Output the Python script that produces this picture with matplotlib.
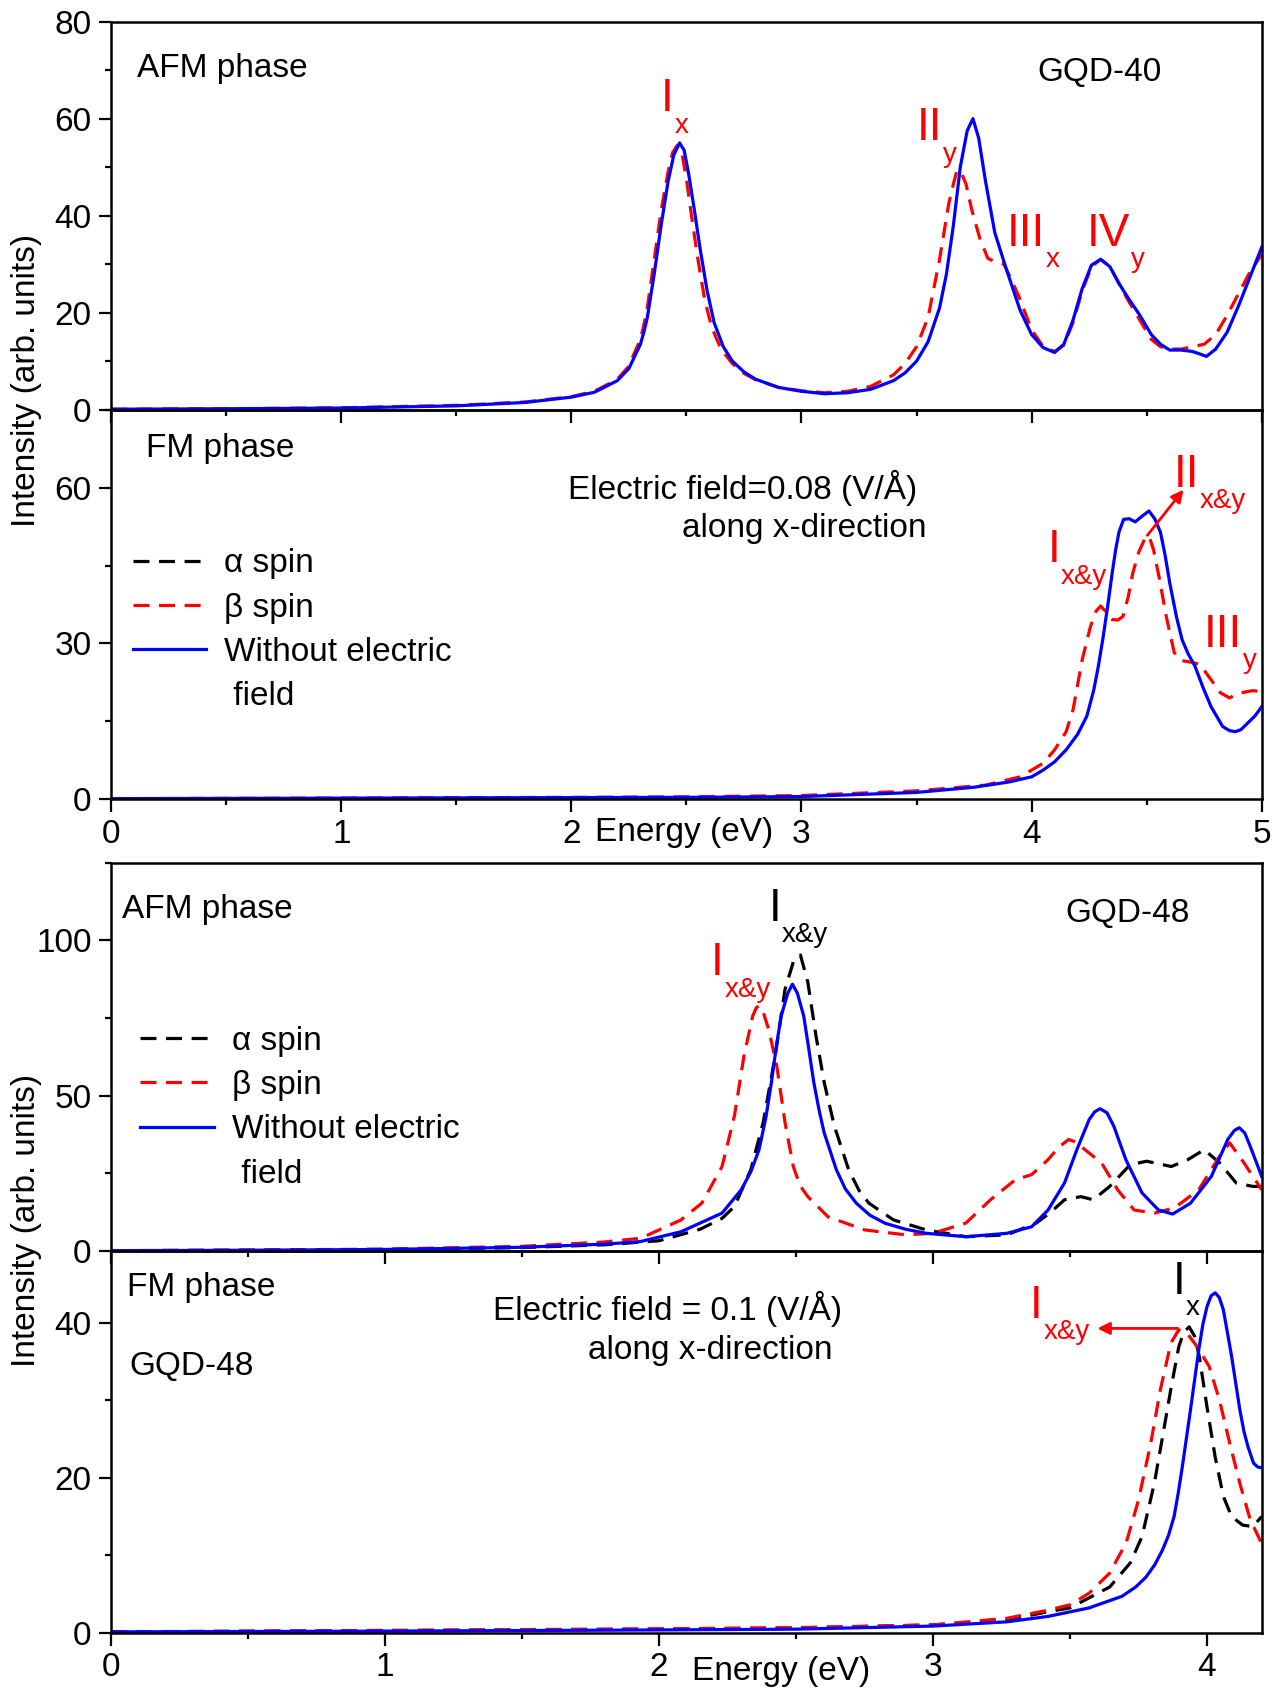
import matplotlib
matplotlib.use("Agg")
import matplotlib.pyplot as plt
from matplotlib.lines import Line2D
from matplotlib.ticker import MultipleLocator

plt.rcParams['font.family'] = ['Liberation Sans', 'DejaVu Sans']

# ---- GQD-40, AFM phase ----
afm40_blue_x = [0, 0.5, 1.0, 1.5, 1.8, 2.0, 2.1, 2.2, 2.25, 2.27, 2.3, 2.315, 2.33, 2.36, 2.39, 2.42, 2.445,
                2.47, 2.49, 2.51, 2.535, 2.56, 2.59, 2.62, 2.66, 2.7, 2.75, 2.8, 2.9, 3.0, 3.1, 3.2, 3.3, 3.4,
                3.45, 3.5, 3.55, 3.6, 3.63, 3.66, 3.69, 3.72, 3.745, 3.77, 3.8, 3.84, 3.89, 3.95, 4.0, 4.05,
                4.1, 4.14, 4.18, 4.22, 4.26, 4.3, 4.34, 4.38, 4.42, 4.47, 4.52, 4.56, 4.6, 4.65, 4.7, 4.76,
                4.8, 4.85, 4.9, 4.95, 5.0]
afm40_blue_y = [0.1, 0.2, 0.35, 0.8, 1.5, 2.6, 3.6, 6.0, 8.5, 10.5, 13.5, 16, 19, 28, 38, 47, 52.5,
                55, 53.5, 48.5, 41, 33, 24.5, 18, 13, 10, 7.8, 6.3, 4.6, 3.8, 3.3, 3.5, 4.2, 6.0,
                7.6, 10.0, 14, 21, 28, 38, 50, 57.5, 60, 56, 47, 36.5, 29, 20.5, 15.5, 12.8,
                11.8, 13.5, 18.5, 25, 29.8, 31, 29.5, 26, 23, 19.5, 15.5, 13.5, 12.3, 12.3, 12.0, 11.0,
                12.5, 16, 21.5, 27.5, 33.5]
afm40_red_x = [0, 0.5, 1.0, 1.5, 1.8, 2.0, 2.1, 2.2, 2.25, 2.27, 2.3, 2.315, 2.33, 2.36, 2.39, 2.42, 2.44,
               2.46, 2.48, 2.50, 2.525, 2.55, 2.58, 2.61, 2.65, 2.7, 2.75, 2.8, 2.9, 3.0, 3.1, 3.2, 3.3, 3.4,
               3.45, 3.5, 3.55, 3.6, 3.64, 3.66, 3.676, 3.695, 3.715, 3.741, 3.777, 3.81, 3.84, 3.88, 3.91,
               3.945, 4.0, 4.05, 4.1, 4.14, 4.18, 4.22, 4.26, 4.3, 4.34, 4.38, 4.42, 4.47, 4.52, 4.56, 4.6,
               4.65, 4.7, 4.75, 4.8, 4.85, 4.9, 4.95, 5.0]
afm40_red_y = [0.1, 0.2, 0.4, 0.9, 1.6, 2.7, 3.8, 6.3, 9.0, 11.3, 14.5, 17.5, 21, 31, 41, 49, 53,
               54.5, 53, 47.5, 39, 31, 22.5, 17, 12.5, 9.5, 7.5, 6.2, 4.6, 3.9, 3.5, 3.8, 4.8, 7.2,
               9.5, 13, 19, 31, 42.5, 46.5, 49.4, 48.8, 46.5, 41, 35, 31.2, 30.5, 30, 27,
               23.3, 16.5, 13, 12, 13.3, 18, 24.5, 29.5, 31, 29.5, 26, 22.5, 18.5, 14.5, 13, 12.5,
               12.5, 13.0, 13.5, 15.5, 19.5, 24, 28.5, 32]

# ---- GQD-40, FM phase, E = 0.08 V/A ----
fm40_blue_x = [0, 1, 2, 2.5, 3.0, 3.5, 3.75, 3.9, 4.0, 4.05, 4.1, 4.15, 4.2, 4.24, 4.27, 4.29, 4.31, 4.33,
               4.35, 4.365, 4.38, 4.4, 4.425, 4.45, 4.48, 4.51, 4.535, 4.56, 4.58, 4.6, 4.63, 4.654, 4.68,
               4.71, 4.745, 4.78, 4.83, 4.86, 4.885, 4.91, 4.94, 4.97, 5.0]
fm40_blue_y = [0.1, 0.2, 0.3, 0.35, 0.5, 1.3, 2.3, 3.3, 4.3, 5.6, 7.2, 9.5, 12.5, 16, 21, 25.6, 31, 37,
               43.5, 48, 51.5, 53.9, 54, 53.4, 54.5, 55.5, 54, 51.4, 47, 41.7, 35, 30.7, 28,
               25.6, 21.5, 17.8, 14, 13.2, 13, 13.4, 14.7, 16, 17.8]
fm40_red_x = [0, 1, 2, 2.5, 3.0, 3.5, 3.8, 3.95, 4.05, 4.1, 4.15, 4.18, 4.22, 4.256, 4.28, 4.3, 4.325,
              4.35, 4.375, 4.397, 4.42, 4.44, 4.465, 4.49, 4.51, 4.53, 4.556, 4.585, 4.62, 4.65, 4.69, 4.73,
              4.78, 4.82, 4.86, 4.9, 4.96, 5.0]
fm40_red_y = [0.1, 0.2, 0.35, 0.45, 0.7, 1.6, 2.7, 4.3, 6.9, 9.5, 13, 17.2, 26.9, 33.3, 36.2, 37.2, 36,
              34.6, 34.5, 35.2, 39, 43.6, 47.5, 50, 50.7, 48, 42.3, 35.2, 28.2, 26.7, 26.4, 26,
              23, 20.5, 19.5, 20.4, 20.9, 20.7]

# ---- GQD-48, AFM phase ----
afm48_blue_x = [0, 0.5, 1.0, 1.5, 1.8, 1.93, 2.08, 2.23, 2.3, 2.335, 2.365, 2.39, 2.41, 2.43, 2.446, 2.47,
                2.487, 2.505, 2.528, 2.545, 2.565, 2.585, 2.603, 2.647, 2.68, 2.72, 2.77, 2.826, 2.9, 2.975,
                3.12, 3.27, 3.36, 3.42, 3.48, 3.525, 3.57, 3.59, 3.61, 3.635, 3.66, 3.704, 3.763, 3.823,
                3.875, 3.94, 4.016, 4.076, 4.1, 4.118, 4.138, 4.158, 4.2]
afm48_blue_y = [0.1, 0.25, 0.5, 1.2, 2.2, 3.0, 6.2, 12.2, 19.7, 25.5, 32.6, 43, 54.2, 67, 75.7, 83,
                85.9, 83, 75.7, 66, 54.2, 45, 38, 26.2, 20, 15.4, 11.5, 8.9, 7, 5.7,
                4.6, 5.7, 7.8, 13.2, 21.9, 32.6, 42.3, 44.8, 45.8, 44.5, 40.2, 29.4, 18.7, 13.2,
                11.9, 15.4, 24, 35.9, 38.8, 39.7, 38, 33.7, 24]
afm48_black_x = [0, 0.5, 1.0, 1.5, 1.8, 2.0, 2.15, 2.23, 2.275, 2.335, 2.38, 2.424, 2.46, 2.49, 2.516,
                 2.543, 2.573, 2.603, 2.64, 2.692, 2.73, 2.766, 2.856, 2.975, 3.12, 3.27, 3.377, 3.43, 3.48,
                 3.54, 3.585, 3.645, 3.72, 3.78, 3.87, 3.93, 3.99, 4.046, 4.107, 4.167, 4.2]
afm48_black_y = [0.1, 0.25, 0.5, 1.1, 2.0, 3.3, 7, 10.5, 14.3, 26.2, 41.3, 62.8, 84.3, 93, 95.3,
                 86.6, 69.2, 54.2, 40.2, 26.2, 19.5, 15.4, 10, 6.8, 4.6, 5.2, 9, 12.5, 16.5,
                 17.5, 16.5, 20.8, 27.8, 28.9, 27.2, 29.4, 32.6, 28.4, 21.9, 20.8, 20.8]
afm48_red_x = [0, 0.5, 1.0, 1.5, 1.8, 1.933, 2.08, 2.156, 2.23, 2.275, 2.31, 2.342, 2.355, 2.365, 2.38,
               2.40, 2.43, 2.46, 2.49, 2.515, 2.543, 2.617, 2.75, 2.9, 3.0, 3.12, 3.21, 3.3, 3.36, 3.42,
               3.46, 3.495, 3.525, 3.555, 3.615, 3.674, 3.734, 3.808, 3.882, 3.97, 4.046, 4.083, 4.135, 4.2]
afm48_red_y = [0.1, 0.3, 0.6, 1.5, 2.9, 4.1, 10, 15.4, 27.2, 43.4, 62.8, 75.7, 78.3, 79, 77,
               71.4, 59.5, 41.3, 27.2, 21, 17.5, 11, 6.8, 5.2, 5.7, 9, 16.5, 22.9, 24.6, 29.4,
               33.5, 35.9, 35, 32.6, 28.4, 19.7, 13.2, 12.2, 13.9, 19.7, 30.5, 34.8, 28.4, 19.7]

# ---- GQD-48, FM phase, E = 0.1 V/A ----
fm48_blue_x = [0, 1.0, 2.0, 2.5, 3.0, 3.27, 3.42, 3.57, 3.69, 3.74, 3.778, 3.81, 3.838, 3.86, 3.88, 3.895,
               3.91, 3.94, 3.97, 3.985, 4.0, 4.015, 4.03, 4.045, 4.06, 4.09, 4.12, 4.135, 4.15, 4.17,
               4.185, 4.2]
fm48_blue_y = [0.1, 0.2, 0.35, 0.45, 0.85, 1.4, 2.1, 3.2, 4.7, 5.9, 7.2, 8.8, 10.7, 12.6, 15, 18,
               21.4, 28.8, 36.5, 39.8, 42.1, 43.5, 43.9, 43.3, 41.7, 35.7, 28.8, 26, 24, 21.9,
               21.4, 21.3]
fm48_black_x = [0, 1, 2, 2.5, 3.0, 3.27, 3.42, 3.5, 3.57, 3.645, 3.72, 3.763, 3.808, 3.838, 3.868, 3.897,
                3.915, 3.935, 3.955, 3.972, 4.0, 4.03, 4.06, 4.09, 4.13, 4.167, 4.2]
fm48_black_y = [0.1, 0.25, 0.45, 0.6, 1.0, 1.64, 2.7, 3.2, 4.5, 5.9, 9, 12.4, 19.3, 25.3, 31.4, 36.9,
                38.8, 39.5, 38.3, 35.7, 29.2, 22.7, 17.6, 15, 13.9, 13.7, 15]
fm48_red_x = [0, 1, 2, 2.5, 3.0, 3.27, 3.42, 3.5, 3.57, 3.645, 3.705, 3.75, 3.795, 3.83, 3.85, 3.868,
              3.897, 3.927, 3.963, 4.008, 4.046, 4.083, 4.12, 4.158, 4.2]
fm48_red_y = [0.1, 0.3, 0.5, 0.65, 1.0, 1.86, 2.9, 3.6, 5.1, 7.7, 11.6, 17.1, 24.5, 31.4, 34.5, 37.4,
              39.1, 38.7, 37, 34.4, 30, 24.5, 19.3, 14.6, 11.5]

FS = 24
LW = 2.3
DASH = (5, 3)


def style_axis(ax, xmax, ymax, ymajor, yminor, xlabels=True):
    ax.set_facecolor("none")
    ax.set_xlim(0, xmax)
    ax.set_ylim(0, ymax)
    ax.xaxis.set_major_locator(MultipleLocator(1))
    ax.xaxis.set_minor_locator(MultipleLocator(0.5))
    ax.yaxis.set_major_locator(MultipleLocator(ymajor))
    ax.yaxis.set_minor_locator(MultipleLocator(yminor))
    ax.tick_params(which="both", direction="out", top=False, right=False, width=1.6, labelsize=FS)
    ax.tick_params(which="major", length=9, pad=5)
    ax.tick_params(which="minor", length=4.5)
    if not xlabels:
        ax.tick_params(axis="x", labelbottom=False)
    for s in ax.spines.values():
        s.set_linewidth(1.8)


def curve(ax, x, y, color, dashed=False):
    ls = (0, DASH) if dashed else "-"
    ax.plot(x, y, color=color, lw=LW, ls=ls, solid_joinstyle="round", dash_joinstyle="round")


def peak_label(ax, x, y, main, sub, color):
    t = ax.text(x, y, main, color=color, fontsize=33, ha="left", va="baseline")
    ax.annotate(sub, xy=(1, 0), xycoords=t, xytext=(0.5, 6), textcoords="offset points",
                color=color, fontsize=20, ha="left", va="top")


def add_legend(ax, x, y):
    handles = [Line2D([], [], color="black", lw=LW, ls=(0, DASH)),
               Line2D([], [], color="red", lw=LW, ls=(0, DASH)),
               Line2D([], [], color="blue", lw=LW),
               Line2D([], [], ls="none")]
    labels = ["\u03b1 spin", "\u03b2 spin", "Without electric", " field"]
    ax.legend(handles, labels, loc="upper left", bbox_to_anchor=(x, y), frameon=False, fontsize=FS,
              handlelength=2.2, handletextpad=0.55, labelspacing=0.4, borderpad=0, borderaxespad=0)


def main():
    fig = plt.figure(figsize=(12.79, 16.91), dpi=100)
    left, width = 0.0869, 0.8996
    ax2 = fig.add_axes([left, 0.5274, width, 0.2303])
    ax1 = fig.add_axes([left, 0.7577, width, 0.2295])
    ax4 = fig.add_axes([left, 0.0345, width, 0.2257])
    ax3 = fig.add_axes([left, 0.2602, width, 0.2296])

    # GQD-40 AFM
    curve(ax1, afm40_red_x, afm40_red_y, "red", dashed=True)
    curve(ax1, afm40_blue_x, afm40_blue_y, "blue")
    style_axis(ax1, 5, 80, 20, 10, xlabels=False)
    ax1.text(0.112, 70.4, "AFM phase", fontsize=FS, va="center")
    ax1.text(4.025, 69.6, "GQD-40", fontsize=FS, va="center")
    peak_label(ax1, 2.39, 61.6, "I", "x", "red")
    peak_label(ax1, 3.50, 55.6, "II", "y", "red")
    peak_label(ax1, 3.89, 33.8, "III", "x", "red")
    peak_label(ax1, 4.24, 33.8, "IV", "y", "red")

    # GQD-40 FM
    curve(ax2, fm40_red_x, fm40_red_y, "red", dashed=True)
    curve(ax2, fm40_blue_x, fm40_blue_y, "blue")
    style_axis(ax2, 5, 75, 30, 15)
    ax2.text(0.15, 67.5, "FM phase", fontsize=FS, va="center")
    ax2.text(1.987, 60.0, "Electric field=0.08 (V/\u00c5)", fontsize=FS, va="center")
    ax2.text(2.479, 52.1, "along x-direction", fontsize=FS, va="center")
    peak_label(ax2, 4.07, 45.6, "I", "x&y", "red")
    peak_label(ax2, 4.616, 60.2, "II", "x&y", "red")
    peak_label(ax2, 4.75, 29.4, "III", "y", "red")
    ax2.annotate("", xy=(4.66, 59.6), xytext=(4.503, 50.8),
                 arrowprops=dict(arrowstyle="-|>", color="red", lw=2, mutation_scale=18,
                                 shrinkA=0, shrinkB=0))
    add_legend(ax2, 0.0187, 0.644)
    ax2.set_xlabel("Energy (eV)", fontsize=FS, va="center")
    ax2.xaxis.set_label_coords(0.498, -0.086)

    # GQD-48 AFM
    curve(ax3, afm48_black_x, afm48_black_y, "black", dashed=True)
    curve(ax3, afm48_red_x, afm48_red_y, "red", dashed=True)
    curve(ax3, afm48_blue_x, afm48_blue_y, "blue")
    style_axis(ax3, 4.2, 125, 50, 25, xlabels=False)
    ax3.text(0.039, 109.8, "AFM phase", fontsize=FS, va="center")
    ax3.text(3.484, 108.7, "GQD-48", fontsize=FS, va="center")
    peak_label(ax3, 2.40, 106.3, "I", "x&y", "black")
    peak_label(ax3, 2.19, 88.9, "I", "x&y", "red")
    add_legend(ax3, 0.0253, 0.580)

    # GQD-48 FM
    curve(ax4, fm48_black_x, fm48_black_y, "black", dashed=True)
    curve(ax4, fm48_red_x, fm48_red_y, "red", dashed=True)
    curve(ax4, fm48_blue_x, fm48_blue_y, "blue")
    style_axis(ax4, 4.2, 49.3, 20, 10)
    ax4.text(0.059, 44.6, "FM phase", fontsize=FS, va="center")
    ax4.text(0.067, 34.4, "GQD-48", fontsize=FS, va="center")
    ax4.text(1.394, 41.8, "Electric field = 0.1 (V/\u00c5)", fontsize=FS, va="center")
    ax4.text(1.74, 36.4, "along x-direction", fontsize=FS, va="center")
    peak_label(ax4, 3.874, 43.8, "I", "x", "black")
    peak_label(ax4, 3.354, 40.7, "I", "x&y", "red")
    ax4.annotate("", xy=(3.60, 39.3), xytext=(3.894, 39.3),
                 arrowprops=dict(arrowstyle="-|>", color="red", lw=2, mutation_scale=18,
                                 shrinkA=0, shrinkB=0))
    ax4.set_xlabel("Energy (eV)", fontsize=FS, va="center")
    ax4.xaxis.set_label_coords(0.582, -0.102)

    fig.text(0.021, 0.775, "Intensity (arb. units)", rotation=90, fontsize=FS, ha="center", va="center")
    fig.text(0.021, 0.278, "Intensity (arb. units)", rotation=90, fontsize=FS, ha="center", va="center")

    fig.savefig("out.png", dpi=100)


if __name__ == "__main__":
    main()
